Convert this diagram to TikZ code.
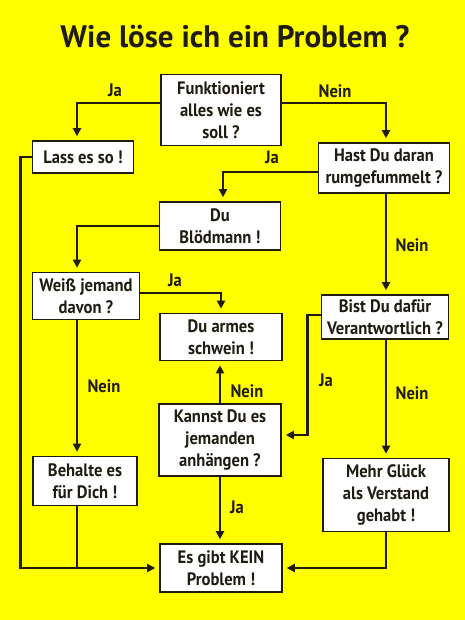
\documentclass[tikz,border=0pt]{standalone}
\usepackage{fontspec}
\setmainfont{PT Sans}[FakeStretch=0.92]
\newfontfamily\titlefont{PT Sans}
\usetikzlibrary{arrows.meta}
\definecolor{MyYellow}{RGB}{255,255,0}
\definecolor{MyInk}{RGB}{32,28,18}

\begin{document}
\begin{tikzpicture}[
  x=1pt, y=-1pt,
  font=\fontsize{18}{22}\selectfont\bfseries,
  box/.style={draw=MyInk, line width=1.6pt, fill=white, align=center, inner sep=0pt, text=MyInk},
  lab/.style={text=MyInk, inner sep=1pt},
  ar/.style={-{Triangle[length=8pt,width=8pt]}, draw=MyInk, line width=2.8pt, shorten >=4pt},
  wire/.style={draw=MyInk, line width=2.8pt}
]
\fill[MyYellow] (0,0) rectangle (465,620);
\useasboundingbox (0,0) rectangle (465,620);
\node[font=\titlefont\fontsize{31}{34}\selectfont\bfseries, text=MyInk, anchor=base] (title) at (235,48) {Wie löse ich ein Problem ?};
% boxes
\node[box, minimum width=120, minimum height=71] (works) at (221,110) {Funktioniert\\alles wie es\\soll ?};
\node[box, minimum width=101, minimum height=32] (leave) at (83,157) {Lass es so !};
\node[box, minimum width=131, minimum height=50] (fiddled) at (384,168) {Hast Du daran\\rumgefummelt ?};
\node[box, minimum width=121, minimum height=48] (idiot) at (220,226) {Du\\Blödmann !};
\node[box, minimum width=107, minimum height=47] (knows) at (86,296) {Weiß jemand\\davon ?};
\node[box, minimum width=122, minimum height=47] (poor) at (221,337) {Du armes\\schwein !};
\node[box, minimum width=127, minimum height=44] (resp) at (385,317) {Bist Du dafür\\Verantwortlich ?};
\node[box, minimum width=122, minimum height=72] (blame) at (220,440) {Kannst Du es\\jemanden\\anhängen ?};
\node[box, minimum width=104, minimum height=49] (keep) at (85,481) {Behalte es\\für Dich !};
\node[box, minimum width=126, minimum height=73] (luck) at (386,495) {Mehr Glück\\als Verstand\\gehabt !};
\node[box, minimum width=122, minimum height=48] (noprob) at (221,568) {Es gibt KEIN\\Problem !};
% connectors
\draw[ar] ([yshift=7pt]works.west) -| ([xshift=-6pt]leave.north);
\draw[ar] ([yshift=7pt]works.east) -| ([xshift=2pt]fiddled.north);
\draw[ar] ([yshift=-4pt]fiddled.west) -| ([xshift=3pt]idiot.north);
\draw[ar] (idiot.west) -| ([xshift=-9pt]knows.north);
\draw[ar] ([yshift=3pt]knows.east) -| (poor.north);
\draw[ar] ([xshift=-9pt]knows.south) -- ([xshift=-9pt]knows.south |- keep.north);
\draw[ar] ([xshift=2pt]fiddled.south) -- ([xshift=2pt]fiddled.south |- resp.north);
\draw[ar] ([yshift=2pt]resp.west) -- ++(-13,0) |- ([yshift=5pt]blame.east);
\draw[ar] (blame.north) -- (blame.north |- poor.south);
\draw[ar] (blame.south) -- (blame.south |- noprob.north);
\draw[ar] ([xshift=1pt]resp.south) -- ([xshift=1pt]resp.south |- luck.north);
\draw[ar] (leave.west) -- ++(-11,0) |- (noprob.west);
\draw[wire] ([xshift=-8pt]keep.south) -- ([xshift=-8pt]keep.south |- noprob.west);
\draw[ar] (luck.south) |- (noprob.east);
% answers
\node[lab] (ans1) at (115,90) {Ja};
\node[lab] (ans2) at (335,91) {Nein};
\node[lab] (ans3) at (272,157) {Ja};
\node[lab] (ans4) at (175,280) {Ja};
\node[lab] (ans5) at (412,245) {Nein};
\node[lab] (ans6) at (104,386) {Nein};
\node[lab] (ans7) at (247,391) {Nein};
\node[lab] (ans8) at (326,380) {Ja};
\node[lab] (ans9) at (412,393) {Nein};
\node[lab] (ans10) at (237,507) {Ja};
\end{tikzpicture}
\end{document}
